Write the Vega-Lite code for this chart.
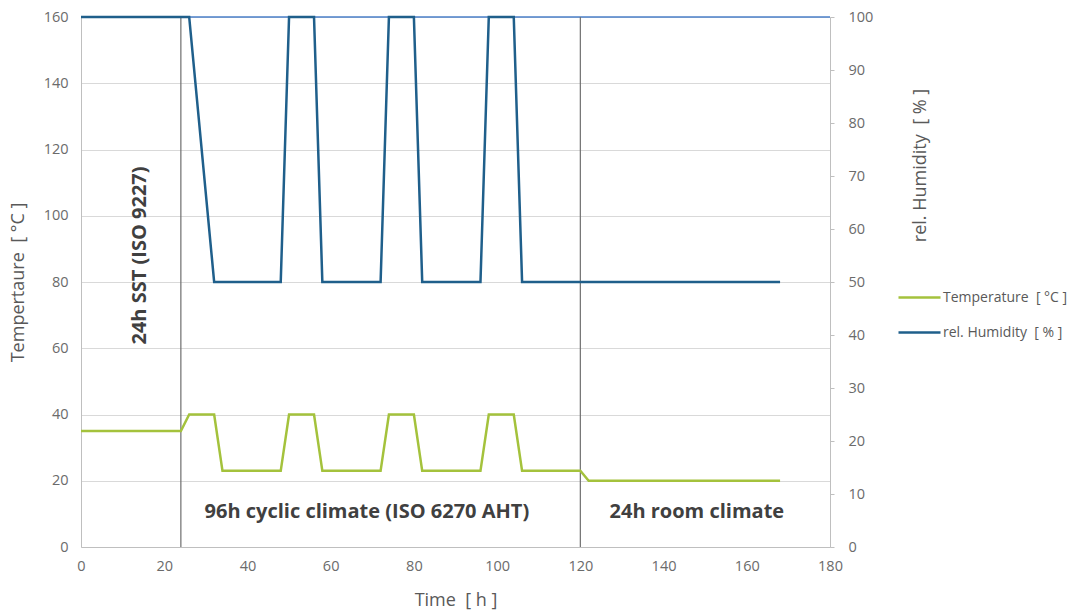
{
  "$schema": "https://vega.github.io/schema/vega-lite/v6.json",
  "autosize": "none",
  "width": 749,
  "height": 530,
  "padding": {"left": 81, "top": 17, "right": 250, "bottom": 64},
  "background": "white",
  "config": {
    "view": {"stroke": null},
    "font": "Open Sans",
    "axis": {"labelFont": "Open Sans", "titleFont": "Open Sans", "labelColor": "#6b6b6b", "titleColor": "#595959", "labelFontSize": 14.5, "titleFontSize": 18, "titleFontWeight": "normal", "domainColor": "#bfbfbf", "tickColor": "#bfbfbf", "gridColor": "#d9d9d9", "labelFlush": false}
  },
  "datasets": {
    "temp": [
      {"t": 0, "temp": 35, "series": "Temperature\u00a0\u00a0[ °C ]"},
      {"t": 24, "temp": 35, "series": "Temperature\u00a0\u00a0[ °C ]"},
      {"t": 26, "temp": 40, "series": "Temperature\u00a0\u00a0[ °C ]"},
      {"t": 32, "temp": 40, "series": "Temperature\u00a0\u00a0[ °C ]"},
      {"t": 34, "temp": 23, "series": "Temperature\u00a0\u00a0[ °C ]"},
      {"t": 48, "temp": 23, "series": "Temperature\u00a0\u00a0[ °C ]"},
      {"t": 50, "temp": 40, "series": "Temperature\u00a0\u00a0[ °C ]"},
      {"t": 56, "temp": 40, "series": "Temperature\u00a0\u00a0[ °C ]"},
      {"t": 58, "temp": 23, "series": "Temperature\u00a0\u00a0[ °C ]"},
      {"t": 72, "temp": 23, "series": "Temperature\u00a0\u00a0[ °C ]"},
      {"t": 74, "temp": 40, "series": "Temperature\u00a0\u00a0[ °C ]"},
      {"t": 80, "temp": 40, "series": "Temperature\u00a0\u00a0[ °C ]"},
      {"t": 82, "temp": 23, "series": "Temperature\u00a0\u00a0[ °C ]"},
      {"t": 96, "temp": 23, "series": "Temperature\u00a0\u00a0[ °C ]"},
      {"t": 98, "temp": 40, "series": "Temperature\u00a0\u00a0[ °C ]"},
      {"t": 104, "temp": 40, "series": "Temperature\u00a0\u00a0[ °C ]"},
      {"t": 106, "temp": 23, "series": "Temperature\u00a0\u00a0[ °C ]"},
      {"t": 120, "temp": 23, "series": "Temperature\u00a0\u00a0[ °C ]"},
      {"t": 122, "temp": 20, "series": "Temperature\u00a0\u00a0[ °C ]"},
      {"t": 168, "temp": 20, "series": "Temperature\u00a0\u00a0[ °C ]"}
    ],
    "hum": [
      {"t": 0, "hum": 100, "series": "rel. Humidity\u00a0\u00a0[ % ]"},
      {"t": 26, "hum": 100, "series": "rel. Humidity\u00a0\u00a0[ % ]"},
      {"t": 32, "hum": 50, "series": "rel. Humidity\u00a0\u00a0[ % ]"},
      {"t": 48, "hum": 50, "series": "rel. Humidity\u00a0\u00a0[ % ]"},
      {"t": 50, "hum": 100, "series": "rel. Humidity\u00a0\u00a0[ % ]"},
      {"t": 56, "hum": 100, "series": "rel. Humidity\u00a0\u00a0[ % ]"},
      {"t": 58, "hum": 50, "series": "rel. Humidity\u00a0\u00a0[ % ]"},
      {"t": 72, "hum": 50, "series": "rel. Humidity\u00a0\u00a0[ % ]"},
      {"t": 74, "hum": 100, "series": "rel. Humidity\u00a0\u00a0[ % ]"},
      {"t": 80, "hum": 100, "series": "rel. Humidity\u00a0\u00a0[ % ]"},
      {"t": 82, "hum": 50, "series": "rel. Humidity\u00a0\u00a0[ % ]"},
      {"t": 96, "hum": 50, "series": "rel. Humidity\u00a0\u00a0[ % ]"},
      {"t": 98, "hum": 100, "series": "rel. Humidity\u00a0\u00a0[ % ]"},
      {"t": 104, "hum": 100, "series": "rel. Humidity\u00a0\u00a0[ % ]"},
      {"t": 106, "hum": 50, "series": "rel. Humidity\u00a0\u00a0[ % ]"},
      {"t": 168, "hum": 50, "series": "rel. Humidity\u00a0\u00a0[ % ]"}
    ],
    "phases": [
      {"t": 24},
      {"t": 120}
    ],
    "labels": [
      {"t": 68.7, "temp": 10.6, "label": "96h cyclic climate (ISO 6270 AHT)"},
      {"t": 148, "temp": 10.6, "label": "24h room climate"}
    ],
    "vlabels": [
      {"t": 14.2, "temp": 88, "label": "24h SST (ISO 9227)"}
    ],
    "top": [
      {"temp": 160}
    ]
  },
  "layer": [
    {
      "layer": [
        {
          "data": {"name": "top"},
          "mark": {"type": "rule", "color": "#4a7fc9", "strokeWidth": 1.5},
          "encoding": {
            "y": {"field": "temp", "type": "quantitative", "scale": {"domain": [0, 160]}, "axis": {"title": "Tempertaure\u00a0\u00a0[ °C ]", "values": [0, 20, 40, 60, 80, 100, 120, 140, 160], "grid": true, "tickSize": 0, "labelPadding": 13, "titlePadding": 16}}
          }
        },
        {
          "data": {"name": "phases"},
          "mark": {"type": "rule", "color": "#6e6e6e", "strokeWidth": 1.2},
          "encoding": {
            "x": {"field": "t", "type": "quantitative", "scale": {"domain": [0, 180]}, "axis": {"title": "Time\u00a0\u00a0[ h ]", "values": [0, 20, 40, 60, 80, 100, 120, 140, 160, 180], "tickSize": 0, "labelPadding": 12, "titlePadding": 19, "grid": false}}
          }
        },
        {
          "data": {"name": "temp"},
          "mark": {"type": "line", "strokeWidth": 2.5},
          "encoding": {
            "x": {"field": "t", "type": "quantitative"},
            "y": {"field": "temp", "type": "quantitative"},
            "color": {"field": "series", "type": "nominal", "scale": {"domain": ["Temperature\u00a0\u00a0[ °C ]", "rel. Humidity\u00a0\u00a0[ % ]"], "range": ["#a4c23c", "#1f5f8b"]},
              "legend": {"title": null, "orient": "none", "legendX": 816, "legendY": 272, "symbolType": "stroke", "symbolSize": 1764, "symbolStrokeWidth": 2.5, "labelFont": "Open Sans", "labelFontSize": 14, "labelColor": "#595959", "labelOffset": 1, "clipHeight": 17, "rowPadding": 18, "labelLimit": 300}}
          }
        },
        {
          "data": {"name": "labels"},
          "mark": {"type": "text", "font": "Open Sans", "fontSize": 20, "fontWeight": "bold", "color": "#404040", "align": "center", "baseline": "middle"},
          "encoding": {
            "x": {"field": "t", "type": "quantitative"},
            "y": {"field": "temp", "type": "quantitative"},
            "text": {"field": "label"}
          }
        },
        {
          "data": {"name": "vlabels"},
          "mark": {"type": "text", "font": "Open Sans", "fontSize": 20, "fontWeight": "bold", "color": "#404040", "align": "center", "baseline": "middle", "angle": 270},
          "encoding": {
            "x": {"field": "t", "type": "quantitative"},
            "y": {"field": "temp", "type": "quantitative"},
            "text": {"field": "label"}
          }
        }
      ]
    },
    {
      "data": {"name": "hum"},
      "mark": {"type": "line", "strokeWidth": 2.5},
      "encoding": {
        "x": {"field": "t", "type": "quantitative"},
        "y": {"field": "hum", "type": "quantitative", "scale": {"domain": [0, 100]}, "axis": {"orient": "right", "title": "rel. Humidity\u00a0\u00a0[ % ]", "values": [0, 10, 20, 30, 40, 50, 60, 70, 80, 90, 100], "grid": false, "tickSize": 4, "labelPadding": 14, "domain": true, "titleAngle": 270, "titleX": 90, "titleY": 148, "titleAlign": "center", "titleBaseline": "middle"}},
        "color": {"field": "series", "type": "nominal"}
      }
    }
  ],
  "resolve": {"scale": {"y": "independent"}, "axis": {"y": "independent"}}
}
